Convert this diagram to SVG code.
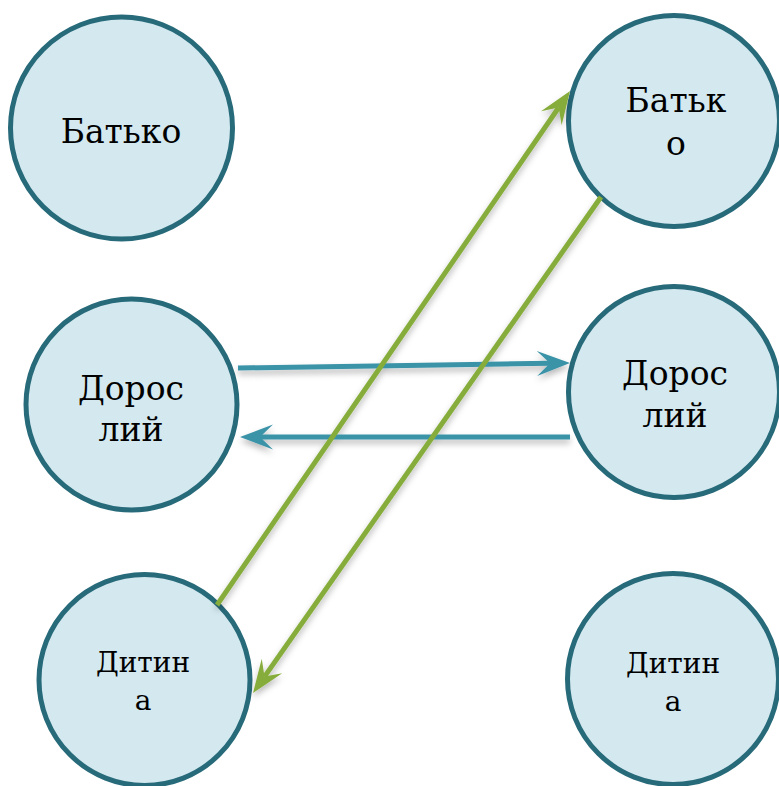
<svg xmlns="http://www.w3.org/2000/svg" width="779" height="786" viewBox="0 0 779 786">
  <style>
    .node circle { fill: #d3e8ef; stroke: #276a7a; stroke-width: 5; }
    .lbl { font-family: 'DejaVu Serif', 'Liberation Serif', serif; fill: #000; text-anchor: middle; }
    .big { font-size: 33px; }
    .small { font-size: 28px; }
    .blue { stroke: #3a93a8; stroke-width: 5; fill: none; marker-end: url(#ahBlue); }
    .green { stroke: #86ad3b; stroke-width: 5; fill: none; marker-end: url(#ahGreen); }
  </style>
  <defs>
    <filter id="sh" filterUnits="userSpaceOnUse" x="0" y="0" width="779" height="786">
      <feDropShadow dx="0" dy="4" stdDeviation="3" flood-color="#000" flood-opacity="0.28"/>
    </filter>
    <marker id="ahBlue" markerUnits="userSpaceOnUse" markerWidth="40" markerHeight="30" viewBox="-14 -15 40 30" refX="0" refY="0" orient="auto" overflow="visible">
      <path d="M20,0 L-13,-12.5 L0,0 L-13,12.5 Z" fill="#3a93a8"/>
    </marker>
    <marker id="ahGreen" markerUnits="userSpaceOnUse" markerWidth="40" markerHeight="30" viewBox="-14 -15 40 30" refX="0" refY="0" orient="auto" overflow="visible">
      <path d="M20,0 L-13,-12.5 L0,0 L-13,12.5 Z" fill="#86ad3b"/>
    </marker>
  </defs>

  <g id="node-batko-left" class="node">
    <circle cx="121.5" cy="128" r="111"/>
    <text class="lbl big" x="121" y="143">Батько</text>
  </g>
  <g id="node-doroslyi-left" class="node">
    <circle cx="131.5" cy="404.5" r="105.5"/>
    <text class="lbl big" x="131" y="400">Дорос</text>
    <text class="lbl big" x="131" y="441">лий</text>
  </g>
  <g id="node-dytyna-left" class="node">
    <circle cx="144.5" cy="680" r="105.5"/>
    <text class="lbl small" x="143" y="672">Дитин</text>
    <text class="lbl small" x="143" y="710">а</text>
  </g>
  <g id="node-batko-right" class="node">
    <circle cx="674" cy="121" r="105.5"/>
    <text class="lbl big" x="676" y="112">Батьк</text>
    <text class="lbl big" x="676" y="155">о</text>
  </g>
  <g id="node-doroslyi-right" class="node">
    <circle cx="674" cy="392" r="105.5"/>
    <text class="lbl big" x="675" y="385">Дорос</text>
    <text class="lbl big" x="675" y="427">лий</text>
  </g>
  <g id="node-dytyna-right" class="node">
    <circle cx="673" cy="679" r="105.5"/>
    <text class="lbl small" x="673" y="673">Дитин</text>
    <text class="lbl small" x="673" y="711">а</text>
  </g>

  <g id="connectors" filter="url(#sh)">
    <line class="blue" x1="238" y1="368" x2="550" y2="363.3"/>
    <line class="blue" x1="570" y1="437" x2="260" y2="437"/>
    <line class="green" x1="217" y1="605" x2="558.7" y2="107.5"/>
    <line class="green" x1="601" y1="197" x2="264.5" y2="676.6"/>
  </g>
</svg>
